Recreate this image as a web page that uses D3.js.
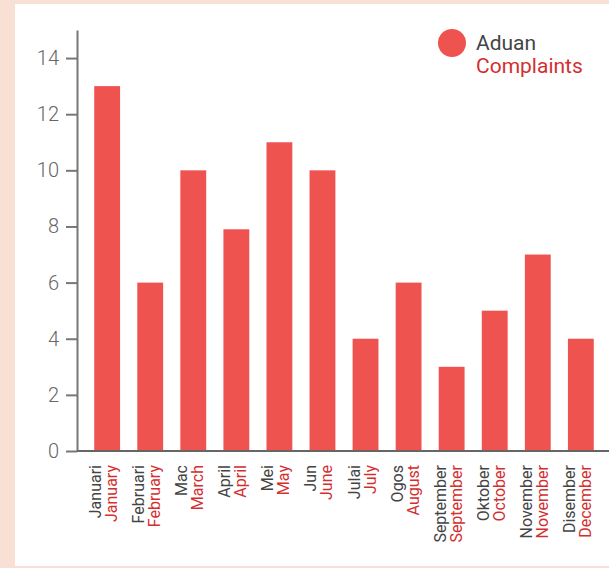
<!DOCTYPE html>
<html>
<head>
<meta charset="utf-8">
<script src="https://cdn.jsdelivr.net/npm/d3@7"></script>
<style>
  html, body { margin: 0; padding: 0; background: #f8e0d5; }
  #chart { position: absolute; left: 15px; top: 4px; width: 594px; height: 562px; background: #fff; }
  svg { position: absolute; left: 0; top: 0; }
</style>
</head>
<body>
<div id="chart"></div>
<script>
// ===== DATA =====
const monthsMy = ["Januari", "Februari", "Mac", "April", "Mei", "Jun", "Julai", "Ogos", "September", "Oktober", "November", "Disember"];
const monthsEn = ["January", "February", "March", "April", "May", "June", "July", "August", "September", "October", "November", "December"];
const complaints = [13, 6, 10, 7.9, 11, 10, 4, 6, 3, 5, 7, 4];
const yTicks = [0, 2, 4, 6, 8, 10, 12, 14];
const legendMy = "Aduan";
const legendEn = "Complaints";

const width = 609, height = 568;
const barColor = "#ef5350";
const redText = "#d32f2f";

const svg = d3.select("body").append("svg")
    .attr("width", width)
    .attr("height", height)
    .style("font-family", "Roboto, sans-serif");

const x = d3.scaleBand()
    .domain(monthsMy)
    .range([77, 611])
    .paddingInner(0.4)
    .paddingOuter(0.4);

const y = d3.scaleLinear()
    .domain([0, 15])
    .range([451, 30]);

// Bars
svg.append("g")
    .selectAll("rect")
    .data(complaints)
    .enter().append("rect")
    .attr("x", (d, i) => x(monthsMy[i]))
    .attr("y", d => y(d))
    .attr("width", x.bandwidth())
    .attr("height", d => y(0) - y(d))
    .attr("fill", barColor);

// Y axis
const yAxis = svg.append("g")
    .attr("transform", "translate(77,0)")
    .call(d3.axisLeft(y).tickValues(yTicks).tickSize(11).tickPadding(7).tickSizeOuter(0));
yAxis.select(".domain").attr("stroke", "#777").attr("stroke-width", 2);
yAxis.selectAll(".tick line").attr("stroke", "#777").attr("stroke-width", 2);
yAxis.selectAll(".tick text")
    .attr("fill", "#666")
    .attr("font-size", "20px")
    .attr("font-weight", 300)
    .attr("font-family", "Roboto, sans-serif");

// X axis line
svg.append("line")
    .attr("x1", 77).attr("x2", width)
    .attr("y1", y(0)).attr("y2", y(0))
    .attr("stroke", "#666")
    .attr("stroke-width", 2);

// X labels (two languages, rotated)
const xl = svg.append("g")
    .selectAll("text")
    .data(monthsMy)
    .enter().append("text")
    .attr("transform", d => `translate(${x(d) + x.bandwidth() / 2},465) rotate(-90)`)
    .attr("text-anchor", "end")
    .attr("font-size", "16px");

xl.append("tspan")
    .attr("x", 0)
    .attr("y", -6)
    .attr("fill", "#444")
    .text(d => d);

xl.append("tspan")
    .attr("x", 0)
    .attr("y", 10)
    .attr("fill", redText)
    .text((d, i) => monthsEn[i]);

// Legend
const legend = svg.append("g");
legend.append("circle")
    .attr("cx", 452).attr("cy", 43).attr("r", 14)
    .attr("fill", barColor);
legend.append("text")
    .attr("x", 476).attr("y", 50)
    .attr("font-size", "21px")
    .attr("fill", "#444")
    .text(legendMy);
legend.append("text")
    .attr("x", 476).attr("y", 73)
    .attr("font-size", "21px")
    .attr("fill", redText)
    .text(legendEn);
</script>
</body>
</html>
